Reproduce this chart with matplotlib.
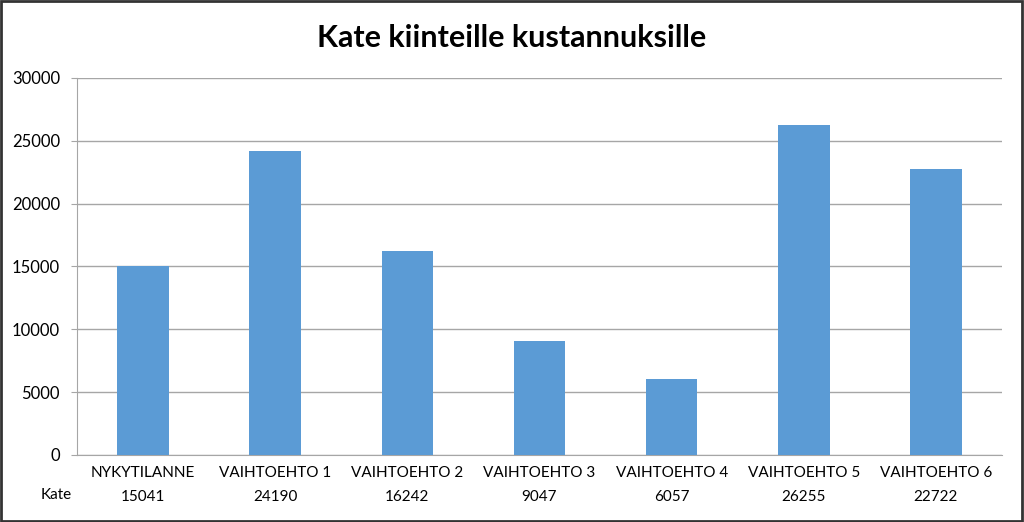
import matplotlib.pyplot as plt
from matplotlib.patches import Rectangle
import numpy as np

categories = ["NYKYTILANNE", "VAIHTOEHTO 1", "VAIHTOEHTO 2", "VAIHTOEHTO 3",
              "VAIHTOEHTO 4", "VAIHTOEHTO 5", "VAIHTOEHTO 6"]
kate = [15041, 24190, 16242, 9047, 6057, 26255, 22722]
row_label = "Kate"
title = "Kate kiinteille kustannuksille"
yticks = [0, 5000, 10000, 15000, 20000, 25000, 30000]

plt.rcParams["font.family"] = ["Lato", "DejaVu Sans"]

fig = plt.figure(figsize=(10.24, 5.22), dpi=100)
ax = fig.add_axes([0.0752, 0.1284, 0.9033, 0.7222])

x = np.arange(len(categories))
ax.bar(x, kate, width=0.39, color="#5B9BD5", zorder=3)

ax.set_xlim(-0.5, len(categories) - 0.5)
ax.set_ylim(0, 30000)
ax.set_yticks(yticks)
ax.set_yticklabels([str(v) for v in yticks], fontsize=12)
ax.yaxis.grid(True, color="#a6a6a6", linewidth=1)
ax.tick_params(axis="y", length=4.3, color="#a6a6a6", pad=8)
ax.set_xticks([])
for s in ["top", "right"]:
    ax.spines[s].set_visible(False)
ax.spines["left"].set_color("#a6a6a6")
ax.spines["bottom"].set_color("#a6a6a6")

# data table under the axis
for i, (c, v) in enumerate(zip(categories, kate)):
    ax.annotate(c, (i, 0), xycoords="data", xytext=(0, -13), textcoords="offset points",
                ha="center", va="center", fontsize=11)
    ax.annotate(str(v), (i, 0), xycoords="data", xytext=(0, -30), textcoords="offset points",
                ha="center", va="center", fontsize=11)
fig.text(56 / 1024, 1 - 495 / 522, row_label, ha="center", va="center", fontsize=11)

fig.text(0.5, 1 - 38 / 522, title, ha="center", va="center", fontsize=22, fontweight="bold")

fig.patches.append(Rectangle((0.001, 0.002), 0.997, 0.996, transform=fig.transFigure,
                             fill=False, edgecolor="#333333", linewidth=2))

fig.savefig("out.png", dpi=100, facecolor="white")
